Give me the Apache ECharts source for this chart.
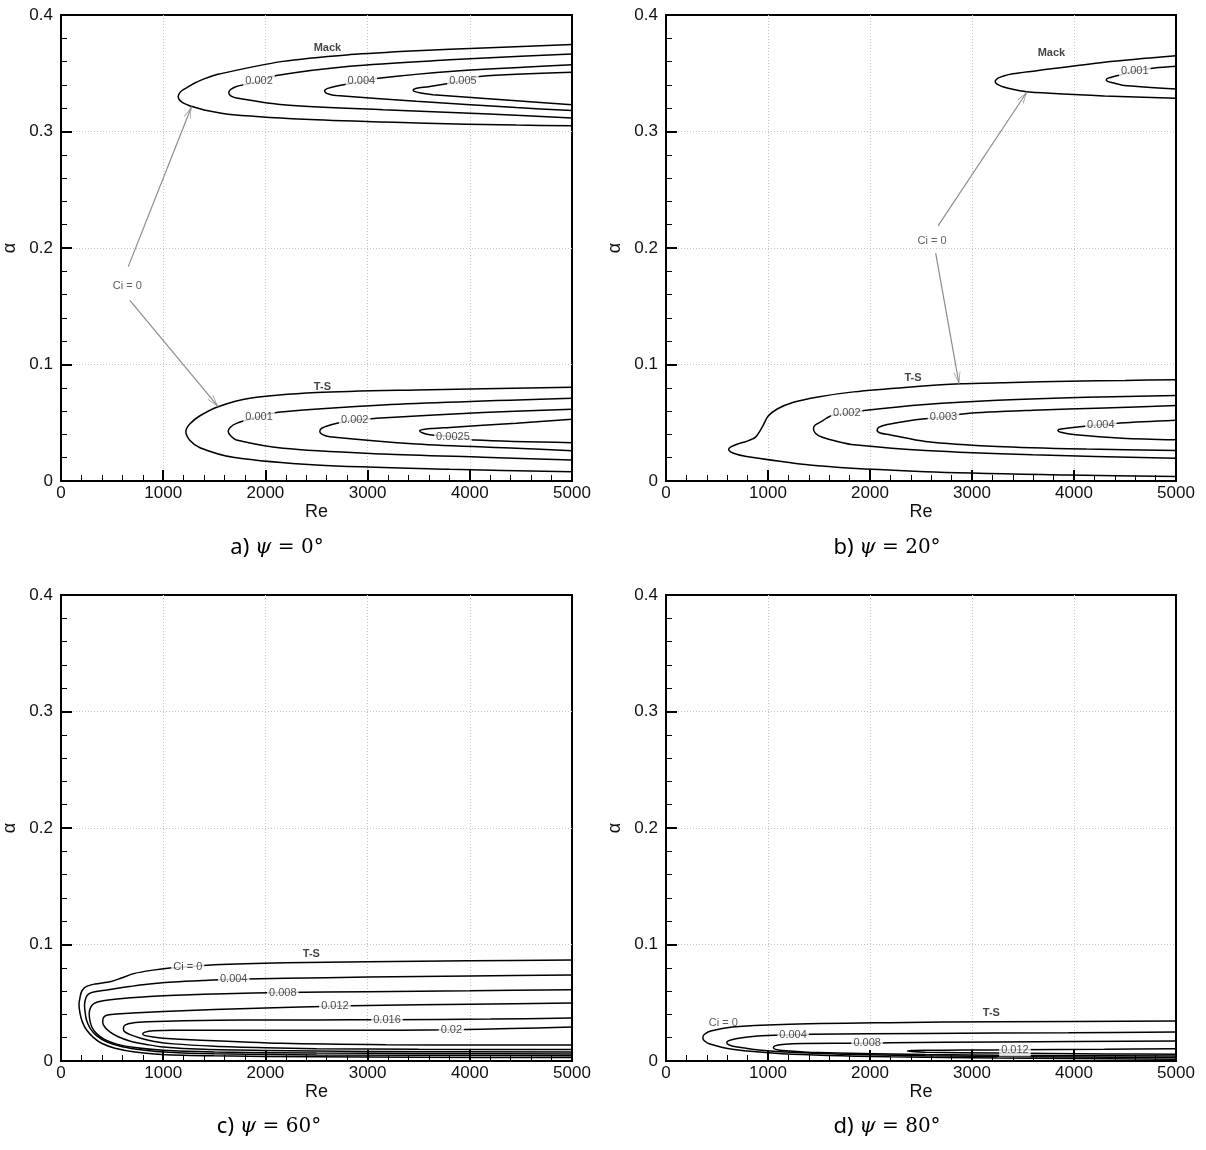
<!DOCTYPE html>
<html>
<head>
<meta charset="utf-8">
<title>Neutral stability curves, swept boundary layer</title>
<script src="https://cdn.jsdelivr.net/npm/echarts@6/dist/echarts.min.js"></script>
<style>
  html, body { margin: 0; padding: 0; background: #fff; }
  #chart { width: 1206px; height: 1150px; }
</style>
</head>
<body>
<div id="chart"></div>
<script>
// Every panel: Re on x (0–5000), α on y (0–0.4). Curves are iso-lines of ci.
const psiDegrees = [0, 20, 60, 80];
const panelLetters = ['a', 'b', 'c', 'd'];

// ---------- ψ = 0° ----------
// Mack mode: ci = 0, 0.002, 0.004, 0.005
const a_mack_0 = [[5000,0.3746],[4130,0.3717],[3480,0.3694],[2825,0.366],[2170,0.3602],[1522,0.3488],[1400,0.3452],[1300,0.3412],[1229,0.3375],[1185,0.3352],[1158,0.3328],[1147,0.330],[1158,0.3272],[1190,0.3248],[1240,0.3228],[1293,0.3212],[1400,0.3185],[1684,0.3144],[2500,0.310],[3480,0.3073],[4455,0.3055],[5000,0.305]];
const a_mack_1 = [[5000,0.3666],[4500,0.3645],[3800,0.3615],[2825,0.356],[2108,0.348],[1938,0.343],[1717,0.3387],[1665,0.3364],[1645,0.3345],[1642,0.3334],[1648,0.3318],[1670,0.3302],[1717,0.3288],[2173,0.323],[3151,0.3187],[4128,0.3153],[5000,0.3116]];
const a_mack_2 = [[5000,0.3574],[3803,0.3516],[3086,0.3455],[2939,0.3428],[2700,0.339],[2610,0.337],[2583,0.3355],[2580,0.3345],[2592,0.3332],[2625,0.332],[2695,0.3308],[3477,0.3259],[4455,0.3205],[5000,0.3181]];
const a_mack_3 = [[5000,0.3508],[4096,0.3473],[3933,0.3435],[3600,0.3385],[3480,0.3372],[3450,0.3362],[3446,0.3352],[3465,0.3342],[3520,0.333],[3640,0.3316],[4455,0.3265],[5000,0.323]];
// T-S mode: ci = 0, 0.001, 0.002, 0.0025
const a_ts_0 = [[5000,0.0805],[3477,0.0782],[2499,0.0759],[1848,0.071],[1538,0.0638],[1360,0.056],[1260,0.049],[1222,0.0424],[1260,0.035],[1360,0.0285],[1684,0.0203],[2499,0.0137],[3803,0.010],[5000,0.008]];
const a_ts_1 = [[5000,0.071],[3151,0.0653],[2124,0.059],[1938,0.0552],[1717,0.0495],[1655,0.046],[1636,0.0424],[1660,0.0388],[1717,0.0352],[2173,0.0281],[3151,0.0232],[4128,0.0204],[5000,0.018]];
const a_ts_2 = [[5000,0.0616],[4128,0.0587],[3086,0.0538],[2874,0.0524],[2700,0.0495],[2555,0.0455],[2532,0.0424],[2560,0.0398],[2629,0.038],[3477,0.0318],[4455,0.0281],[5000,0.026]];
const a_ts_3 = [[5000,0.053],[4455,0.0496],[3803,0.046],[3560,0.0445],[3509,0.0432],[3540,0.0412],[3607,0.0398],[3835,0.038],[4050,0.0352],[5000,0.0329]];
const a_levelLabels = [[1938,0.343,'0.002'],[2939,0.343,'0.004'],[3933,0.343,'0.005'],[1938,0.0552,'0.001'],[2874,0.0524,'0.002'],[3835,0.038,'0.0025']];
const a_modeLabels = [[2607,0.372,'Mack'],[2558,0.081,'T-S']];
const a_callout = [[648,0.1678,'Ci = 0']];
const a_arrows = [[[658,0.184],[1278,0.3215]],[[674,0.155],[1538,0.0638]]];

// ---------- ψ = 20° ----------
const b_mack_0 = [[5000,0.365],[4300,0.3595],[3600,0.3518],[3400,0.3495],[3310,0.3477],[3260,0.346],[3236,0.3445],[3228,0.343],[3236,0.3415],[3260,0.340],[3310,0.3382],[3400,0.3362],[3560,0.3338],[4300,0.3305],[5000,0.3285]];
const b_mack_1 = [[5000,0.356],[4790,0.3545],[4596,0.352],[4420,0.3478],[4335,0.3458],[4316,0.3445],[4330,0.343],[4380,0.3418],[4474,0.3398],[5000,0.3365]];
const b_ts_0 = [[5000,0.087],[4500,0.0863],[3950,0.0856],[3400,0.0846],[2895,0.0834],[2370,0.0805],[1840,0.0765],[1490,0.0722],[1250,0.0676],[1090,0.0618],[1000,0.0555],[947,0.0469],[877,0.0377],[789,0.034],[702,0.0318],[640,0.0295],[614,0.0272],[656,0.024],[789,0.021],[1491,0.013],[2544,0.008],[3947,0.0052],[5000,0.0038]];
const b_ts_1 = [[5000,0.0733],[4120,0.0719],[3250,0.0693],[2540,0.0656],[1965,0.0607],[1772,0.058],[1614,0.0558],[1526,0.0512],[1460,0.0478],[1446,0.0446],[1465,0.041],[1526,0.0377],[1700,0.0335],[1842,0.0311],[2544,0.0262],[3596,0.0225],[5000,0.0196]];
const b_ts_2 = [[5000,0.0647],[4300,0.0627],[3600,0.0607],[2930,0.0578],[2720,0.0549],[2400,0.052],[2158,0.0483],[2085,0.046],[2070,0.0435],[2100,0.0412],[2193,0.0397],[2544,0.034],[3246,0.0297],[4123,0.0274],[5000,0.0262]];
const b_ts_3 = [[5000,0.0521],[4456,0.0498],[4263,0.0483],[3947,0.0455],[3860,0.0445],[3842,0.0435],[3870,0.0418],[4018,0.0397],[4474,0.0368],[5000,0.0354]];
const b_levelLabels = [[4596,0.352,'0.001'],[1772,0.058,'0.002'],[2720,0.0549,'0.003'],[4263,0.0483,'0.004']];
const b_modeLabels = [[3779,0.367,'Mack'],[2421,0.0885,'T-S']];
const b_callout = [[2609,0.2064,'Ci = 0']];
const b_arrows = [[[2667,0.219],[3540,0.3341]],[[2644,0.1956],[2873,0.0834]]];

// ---------- ψ = 60° ----------
const c_ts_0 = [[5000,0.0868],[4000,0.086],[3000,0.0852],[2200,0.0843],[1500,0.0826],[1240,0.0808],[1065,0.0798],[900,0.078],[720,0.0752],[590,0.0712],[490,0.0682],[330,0.066],[250,0.064],[205,0.0603],[186,0.0545],[176,0.0485],[186,0.041],[208,0.0338],[251,0.0266],[316,0.0203],[397,0.0152],[528,0.011],[723,0.0078],[984,0.0056],[1500,0.0044],[2500,0.0036],[3500,0.0032],[5000,0.003]];
const c_ts_1 = [[5000,0.0739],[4000,0.073],[3000,0.072],[2200,0.071],[1690,0.0702],[1400,0.0692],[1100,0.0678],[800,0.0655],[600,0.063],[450,0.061],[330,0.0595],[275,0.0578],[245,0.0545],[230,0.048],[236,0.042],[250,0.035],[287,0.0278],[350,0.0215],[450,0.0163],[600,0.0123],[800,0.0095],[1050,0.0075],[1500,0.0062],[2500,0.0052],[5000,0.0045]];
const c_ts_2 = [[5000,0.0612],[4000,0.0603],[3000,0.0595],[2170,0.0588],[1600,0.0578],[1200,0.0566],[800,0.055],[550,0.0532],[400,0.0515],[325,0.0495],[290,0.046],[276,0.041],[282,0.035],[303,0.029],[348,0.0235],[425,0.0185],[545,0.0145],[720,0.0115],[1000,0.0092],[1500,0.0078],[2500,0.0068],[5000,0.006]];
const c_ts_3 = [[5000,0.0498],[4000,0.0488],[3000,0.0476],[2680,0.047],[2000,0.0455],[1500,0.0442],[1000,0.0425],[700,0.0412],[520,0.0402],[440,0.039],[412,0.0365],[408,0.033],[430,0.029],[478,0.025],[560,0.0208],[680,0.017],[850,0.014],[1000,0.012],[1400,0.010],[2000,0.009],[3000,0.0082],[5000,0.0078]];
const c_ts_4 = [[5000,0.0369],[4200,0.036],[3190,0.0355],[2500,0.0352],[1800,0.0352],[1200,0.0346],[850,0.0336],[700,0.0326],[630,0.031],[610,0.0282],[622,0.0252],[676,0.0226],[780,0.0195],[900,0.017],[1100,0.0147],[1500,0.0127],[2000,0.0114],[2500,0.0106],[3500,0.010],[5000,0.0098]];
const c_ts_5 = [[5000,0.0292],[4400,0.0278],[3820,0.0268],[2840,0.0264],[1820,0.0265],[1100,0.0265],[900,0.026],[822,0.0248],[800,0.0232],[822,0.0218],[900,0.0206],[1000,0.0196],[1320,0.018],[2160,0.0152],[3180,0.014],[4200,0.0138],[5000,0.0138]];
const c_levelLabels = [[1240,0.0808,'Ci = 0'],[1690,0.0702,'0.004'],[2170,0.0588,'0.008'],[2680,0.047,'0.012'],[3190,0.0355,'0.016'],[3820,0.0268,'0.02']];
const c_modeLabels = [[2450,0.0917,'T-S']];

// ---------- ψ = 80° ----------
const d_ts_0 = [[5000,0.0343],[3246,0.0337],[2193,0.0329],[1140,0.0314],[649,0.0291],[439,0.0257],[378,0.023],[361,0.020],[378,0.0172],[439,0.0143],[649,0.010],[1140,0.0063],[2193,0.0036],[3246,0.0026],[5000,0.0016]];
const d_ts_1 = [[5000,0.0249],[3947,0.0243],[2544,0.0237],[1421,0.0229],[1246,0.0225],[895,0.0215],[684,0.0191],[610,0.0173],[596,0.0157],[615,0.014],[684,0.0123],[965,0.009],[1491,0.0065],[2544,0.0045],[3947,0.0035],[5000,0.003]];
const d_ts_2 = [[5000,0.0171],[3246,0.0163],[2193,0.0157],[1972,0.0153],[1351,0.015],[1140,0.0142],[1068,0.013],[1053,0.0114],[1075,0.010],[1140,0.0091],[1491,0.0072],[2544,0.0056],[3947,0.0046],[5000,0.0042]];
const d_ts_3 = [[5000,0.0106],[4298,0.0101],[3421,0.0096],[2895,0.0094],[2544,0.0092],[2410,0.009],[2368,0.0086],[2410,0.0081],[2544,0.0076],[3246,0.0068],[4298,0.0061],[5000,0.0058]];
const d_levelLabels = [[1246,0.0225,'0.004'],[1972,0.0153,'0.008'],[3421,0.0096,'0.012']];
const d_modeLabels = [[3190,0.0414,'T-S']];
const d_callout = [[561,0.0329,'Ci = 0']];

const panels = [
  { contours: [a_mack_0, a_mack_1, a_mack_2, a_mack_3, a_ts_0, a_ts_1, a_ts_2, a_ts_3],
    levelLabels: a_levelLabels, modeLabels: a_modeLabels, callout: a_callout, arrows: a_arrows },
  { contours: [b_mack_0, b_mack_1, b_ts_0, b_ts_1, b_ts_2, b_ts_3],
    levelLabels: b_levelLabels, modeLabels: b_modeLabels, callout: b_callout, arrows: b_arrows },
  { contours: [c_ts_0, c_ts_1, c_ts_2, c_ts_3, c_ts_4, c_ts_5],
    levelLabels: c_levelLabels, modeLabels: c_modeLabels, callout: [], arrows: [] },
  { contours: [d_ts_0, d_ts_1, d_ts_2, d_ts_3],
    levelLabels: d_levelLabels, modeLabels: d_modeLabels, callout: d_callout, arrows: [] }
];

// ---------- layout ----------
const GRIDS = [
  { left: 61,  top: 15,  width: 511, height: 466 },
  { left: 666, top: 15,  width: 510, height: 466 },
  { left: 61,  top: 595, width: 511, height: 466 },
  { left: 666, top: 595, width: 510, height: 466 }
];
const CAPTION_POS = [[277, 548], [887, 548], [269, 1127], [887, 1127]];
const SANS = 'Liberation Sans, Arial, sans-serif';
const ARROW_HEAD = 'path://M5,0 L10,14 L9,14 L5,2.5 L1,14 L0,14 Z';

const grid = GRIDS.map(g => Object.assign({
  show: true, borderColor: '#000', borderWidth: 2, backgroundColor: 'transparent', containLabel: false
}, g));

const dotted = { show: true, showMinLine: false, showMaxLine: false,
                 lineStyle: { color: '#c4c4c4', width: 1, type: [1, 2] } };

const xAxis = GRIDS.map((g, i) => ({
  gridIndex: i, type: 'value', min: 0, max: 5000, interval: 1000,
  name: 'Re', nameLocation: 'middle', nameGap: 22,
  nameTextStyle: { fontFamily: SANS, fontSize: 18, color: '#111' },
  axisLine: { show: true, onZero: false, lineStyle: { color: '#000', width: 2 } },
  axisTick: { show: true, inside: true, length: 11, lineStyle: { color: '#000', width: 2 } },
  minorTick: { show: true, splitNumber: 5, length: 6, lineStyle: { color: '#000', width: 1 } },
  axisLabel: { fontFamily: SANS, fontSize: 17, color: '#111', margin: 4, formatter: v => String(v) },
  splitLine: dotted
}));

const yAxis = GRIDS.map((g, i) => ({
  gridIndex: i, type: 'value', min: 0, max: 0.4, interval: 0.1,
  name: 'α', nameLocation: 'middle', nameGap: 42,
  nameTextStyle: { fontFamily: SANS, fontSize: 18, color: '#111' },
  axisLine: { show: true, onZero: false, lineStyle: { color: '#000', width: 2 } },
  axisTick: { show: true, inside: true, length: 11, lineStyle: { color: '#000', width: 2 } },
  minorTick: { show: true, splitNumber: 5, length: 6, lineStyle: { color: '#000', width: 1 } },
  axisLabel: { fontFamily: SANS, fontSize: 17, color: '#111', margin: 8,
               formatter: v => String(+v.toFixed(2)) },
  splitLine: dotted
}));

const series = [];
panels.forEach((p, i) => {
  p.contours.forEach((pts, k) => {
    const s = {
      type: 'line', xAxisIndex: i, yAxisIndex: i, data: pts,
      symbol: 'none', showSymbol: false, smooth: 0.3, clip: true, silent: true,
      lineStyle: { color: '#000', width: 1.5 }, z: 3, animation: false
    };
    if (k === 0 && p.arrows.length) {
      s.markLine = {
        silent: true, animation: false,
        symbol: ['none', ARROW_HEAD], symbolSize: [7, 12],
        lineStyle: { color: '#8c8c8c', width: 1.2, type: 'solid' },
        label: { show: false }, emphasis: { disabled: true },
        data: p.arrows.map(([from, to]) => [
          { coord: from },
          { coord: to, symbolOffset: [0, '50%'] }
        ])
      };
    }
    series.push(s);
  });
  // ci level labels sit on their curves, masking the line behind them
  series.push({
    type: 'scatter', xAxisIndex: i, yAxisIndex: i, symbolSize: 0, silent: true, z: 6, animation: false,
    data: p.levelLabels.map(([x, y, t]) => ({ value: [x, y], name: t })),
    label: { show: true, position: 'inside', formatter: '{b}', fontFamily: SANS, fontSize: 11,
             color: '#222', backgroundColor: '#fff', padding: [1, 2] }
  });
  // mode names (bold)
  series.push({
    type: 'scatter', xAxisIndex: i, yAxisIndex: i, symbolSize: 0, silent: true, z: 6, animation: false,
    data: p.modeLabels.map(([x, y, t]) => ({ value: [x, y], name: t })),
    label: { show: true, position: 'inside', formatter: '{b}', fontFamily: SANS, fontSize: 11,
             fontWeight: 'bold', color: '#111' }
  });
  if (p.callout.length) {
    series.push({
      type: 'scatter', xAxisIndex: i, yAxisIndex: i, symbolSize: 0, silent: true, z: 6, animation: false,
      data: p.callout.map(([x, y, t]) => ({ value: [x, y], name: t })),
      label: { show: true, position: 'inside', formatter: '{b}', fontFamily: SANS, fontSize: 11, color: '#333' }
    });
  }
});

const graphic = panels.map((p, i) => ({
  type: 'text', x: CAPTION_POS[i][0], y: CAPTION_POS[i][1], silent: true,
  style: {
    text: '{s|' + panelLetters[i] + ') }{m|ψ}{r| = ' + psiDegrees[i] + '°}',
    align: 'center', verticalAlign: 'middle',
    rich: {
      s: { fontFamily: 'Noto Sans, sans-serif', fontSize: 22, fill: '#000' },
      m: { fontFamily: 'DejaVu Serif, serif', fontStyle: 'italic', fontSize: 21, fill: '#000' },
      r: { fontFamily: 'DejaVu Serif, serif', fontSize: 20, fill: '#000' }
    }
  }
}));

const chart = echarts.init(document.getElementById('chart'), null, { renderer: 'canvas' });
chart.setOption({
  backgroundColor: '#fff',
  animation: false,
  grid, xAxis, yAxis, series, graphic
});
</script>
</body>
</html>
